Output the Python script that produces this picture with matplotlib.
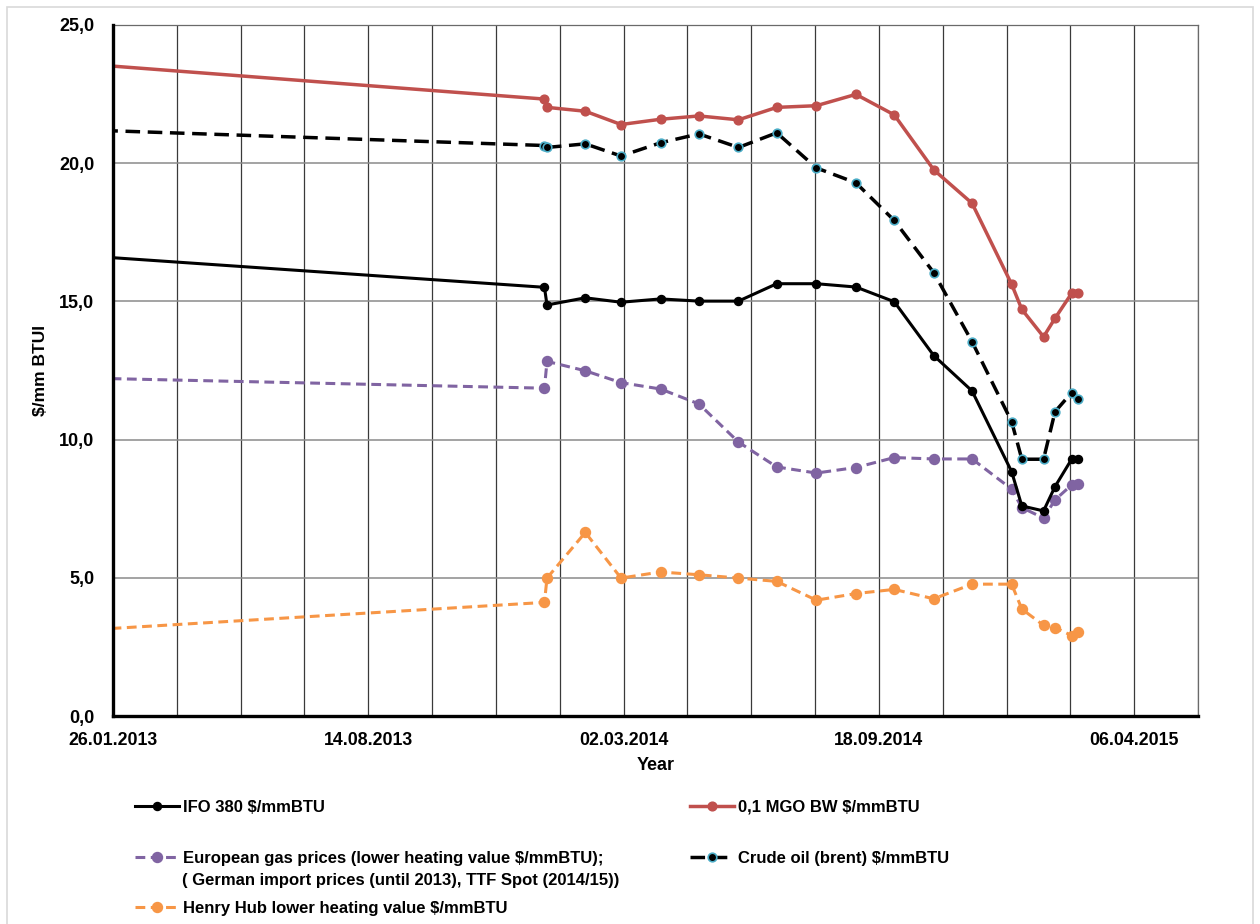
import numpy as np
import matplotlib
matplotlib.use('Agg')
import matplotlib.pyplot as plt
import matplotlib.dates as mdates
from matplotlib.ticker import FuncFormatter
from matplotlib.patches import Rectangle
import pandas as pd

plt.rcParams['font.family'] = ['Liberation Sans', 'DejaVu Sans']
plt.rcParams['font.weight'] = 'bold'

# Price observations ($/mmBTU)
dates = pd.to_datetime([
    '2013-01-01', '2013-12-30', '2014-01-01', '2014-01-31', '2014-02-28',
    '2014-03-31', '2014-04-30', '2014-05-31', '2014-06-30', '2014-07-31',
    '2014-08-31', '2014-09-30', '2014-10-31', '2014-11-30', '2014-12-31',
    '2015-01-08', '2015-01-25', '2015-02-03', '2015-02-16', '2015-02-21'])

ifo380 = [16.66, 15.51, 14.87, 15.13, 14.97, 15.09, 15.01, 15.01, 15.64, 15.64,
          15.52, 14.99, 13.04, 11.76, 8.84, 7.60, 7.42, 8.30, 9.29, 9.29]
mgo = [23.60, 22.32, 22.02, 21.88, 21.40, 21.59, 21.71, 21.57, 22.02, 22.08,
       22.49, 21.75, 19.76, 18.55, 15.62, 14.71, 13.72, 14.39, 15.29, 15.29]
brent = [21.21, 20.64, 20.57, 20.70, 20.26, 20.74, 21.06, 20.57, 21.10, 19.83,
         19.29, 17.93, 16.04, 13.54, 10.65, 9.29, 9.29, 11.01, 11.70, 11.47]
eu_gas = [12.23, 11.86, 12.83, 12.49, 12.06, 11.83, 11.29, 9.91, 9.01, 8.79,
          8.99, 9.35, 9.30, 9.30, 8.21, 7.54, 7.16, 7.82, 8.36, 8.39]
henry_hub = [3.10, 4.11, 4.99, 6.64, 4.99, 5.21, 5.11, 4.99, 4.87, 4.19,
             4.43, 4.58, 4.24, 4.77, 4.77, 3.87, 3.28, 3.20, 2.91, 3.04]

labels = ['IFO 380 $/mmBTU',
          '0,1 MGO BW $/mmBTU',
          'European gas prices (lower heating value $/mmBTU);',
          'Crude oil (brent) $/mmBTU',
          'Henry Hub lower heating value $/mmBTU']
eu_gas_note = '( German import prices (until 2013), TTF Spot (2014/15))'

W, H = 1260, 924
fig = plt.figure(figsize=(W / 100, H / 100), dpi=100)
fig.patches.append(Rectangle((7 / W, -0.01), (1253 - 7) / W, 1.01 - 7 / H,
                             transform=fig.transFigure, fill=False,
                             edgecolor='#d9d9d9', linewidth=1.2))

ax = fig.add_axes([113 / W, 1 - 716 / H, (1198 - 113) / W, (716 - 25) / H])

l_gas, = ax.plot(dates, eu_gas, color='#8064a2', lw=2.2, dashes=(3.2, 1.8),
                 marker='o', ms=7.2, zorder=3)
l_hh, = ax.plot(dates, henry_hub, color='#f79646', lw=2.2, dashes=(3.2, 1.8),
                marker='o', ms=7.2, zorder=3)
l_ifo, = ax.plot(dates, ifo380, color='black', lw=2.2, marker='o', ms=5.8,
                 zorder=4)
l_brent, = ax.plot(dates, brent, color='black', lw=2.5, dashes=(4.2, 2.2),
                   marker='o', ms=6.2, mfc='black', mec='#4bacc6', mew=1.2,
                   zorder=4)
l_mgo, = ax.plot(dates, mgo, color='#c0504d', lw=2.5, marker='o', ms=6.3,
                 zorder=5)

start = pd.Timestamp('2013-01-26')
ax.set_xlim(start, start + pd.Timedelta(days=850))
ax.set_ylim(0, 25)
ax.set_xticks(pd.date_range(start, periods=5, freq='200D'))
ax.set_xticks(pd.date_range(start, periods=18, freq='50D'), minor=True)
ax.xaxis.set_major_formatter(mdates.DateFormatter('%d.%m.%Y'))
ax.set_yticks(np.arange(0, 26, 5))
ax.yaxis.set_major_formatter(FuncFormatter(lambda v, p: f'{v:.1f}'.replace('.', ',')))

ax.grid(axis='x', which='both', color='#3a3a3a', lw=0.9)
ax.grid(axis='y', which='major', color='#8a8a8a', lw=1.1)
ax.set_axisbelow(True)
ax.tick_params(which='both', length=0)
ax.tick_params(axis='x', labelsize=12.8, pad=11.5)
ax.tick_params(axis='y', labelsize=13, pad=13.5)

for side in ('top', 'right'):
    ax.spines[side].set_color('#6a6a6a')
    ax.spines[side].set_linewidth(0.9)
for side in ('left', 'bottom'):
    ax.spines[side].set_color('black')
    ax.spines[side].set_linewidth(2.4)
    ax.spines[side].set_zorder(6)

ax.set_xlabel('Year', fontsize=13, fontweight='bold')
ax.xaxis.set_label_coords(0.5, -(757 - 716) / (716 - 25))
ax.set_ylabel('$/mm BTUI', fontsize=12.5, fontweight='bold')
ax.yaxis.set_label_coords(-(113 - 41) / (1198 - 113), 0.5)
ax.yaxis.label.set_verticalalignment('center')

# Legend entries laid out in two columns beneath the plot
entries = [(l_ifo, labels[0], 135, 807),
           (l_mgo, labels[1], 690, 807),
           (l_gas, labels[2], 135, 858),
           (l_brent, labels[3], 690, 858),
           (l_hh, labels[4], 135, 908)]
for handle, label, x, y in entries:
    fig.legend([handle], [label], loc='center left',
               bbox_to_anchor=(x / W, 1 - y / H), frameon=False,
               borderpad=0, borderaxespad=0, handlelength=2.65,
               handletextpad=0.25,
               prop={'size': 12, 'weight': 'bold'})
fig.text(182 / W, 1 - 880 / H, eu_gas_note, fontsize=12, fontweight='bold',
         va='center', ha='left')

fig.savefig('out.png', dpi=100)
